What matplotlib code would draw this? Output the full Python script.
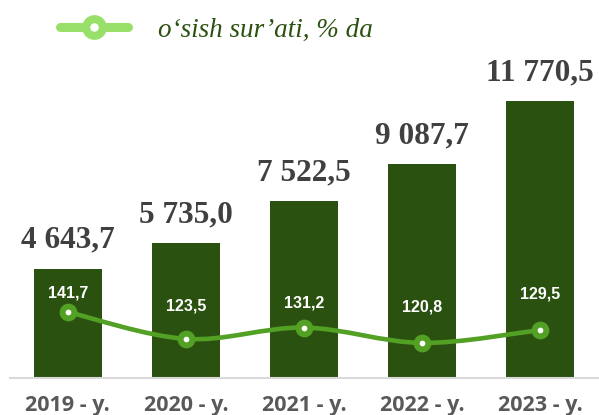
import matplotlib
matplotlib.use('Agg')
import matplotlib.pyplot as plt
import numpy as np
from matplotlib.path import Path
from matplotlib.patches import PathPatch
from matplotlib.lines import Line2D

years = ['2019 - y.', '2020 - y.', '2021 - y.', '2022 - y.', '2023 - y.']
volume = [4643.7, 5735.0, 7522.5, 9087.7, 11770.5]
growth = [141.7, 123.5, 131.2, 120.8, 129.5]
legend_text = 'o‘sish sur’ati, % da'

bar_color = '#2b5110'
line_color = '#52a024'

def fmt(v):
    s = '{:,.1f}'.format(v)
    return s.replace(',', ' ').replace('.', ',')

fig = plt.figure(figsize=(5.99, 4.15), dpi=100)
ax = fig.add_axes([10/599, 37/415, 588/599, 318/415])
x = np.arange(len(years))
ax.bar(x, volume, width=0.57, color=bar_color, zorder=2)
ax.set_xlim(-0.49, 4.49)
ax.set_ylim(0, 13515)
for s in ['top', 'right', 'left']:
    ax.spines[s].set_visible(False)
ax.spines['bottom'].set_color('#d9d9d9')
ax.spines['bottom'].set_linewidth(1.5)
ax.set_yticks([])
ax.set_xticks(x)
ax.set_xticklabels(years, fontsize=15.5, fontweight='bold', color='#595959',
                   family=['Open Sans', 'DejaVu Sans'])
ax.tick_params(axis='x', length=0, pad=12)

for xi, v in zip(x, volume):
    ax.annotate(fmt(v), (xi, v), xytext=(0, 10), textcoords='offset points',
                ha='center', va='bottom', fontsize=22.5, fontweight='bold',
                color='#404040', family=['Liberation Serif', 'DejaVu Serif'])

# smoothed growth line on second axis
ax2 = ax.twinx()
ax2.set_ylim(97.1, 312)
ax2.set_axis_off()
pts = np.column_stack([x, growth]).astype(float)
verts = [pts[0]]
codes = [Path.MOVETO]
for i in range(len(pts) - 1):
    p0 = pts[i - 1] if i > 0 else pts[i]
    p1, p2 = pts[i], pts[i + 1]
    p3 = pts[i + 2] if i + 2 < len(pts) else pts[i + 1]
    c1 = p1 + (p2 - p0) / 6
    c2 = p2 - (p3 - p1) / 6
    verts += [c1, c2, p2]
    codes += [Path.CURVE4] * 3
ax2.add_patch(PathPatch(Path(verts, codes), fill=False, edgecolor=line_color,
                        lw=3.3, capstyle='round', zorder=3))
ax2.plot(x, growth, linestyle='none', marker='o', markersize=8.5,
         markerfacecolor='white', markeredgecolor=line_color,
         markeredgewidth=4.3, zorder=4)

label_off = [14, 24, 18, 26, 26]
for xi, g, off in zip(x, growth, label_off):
    ax2.annotate(fmt(g), (xi, g), xytext=(0, off), textcoords='offset points',
                 ha='center', va='center', fontsize=11.5, color='white',
                 fontweight='bold', family=['Liberation Sans', 'DejaVu Sans'])

# legend
h = Line2D([], [], color='#98e06a', lw=6.5, marker='o', markersize=12,
           markerfacecolor='white', markeredgecolor='#98e06a', markeredgewidth=5.8,
           solid_capstyle='round')
fig.legend([h], [legend_text], loc='center left', bbox_to_anchor=(36/599, 1 - 30/415),
           frameon=False, handlelength=2.5, handletextpad=1.1,
           prop={'family': ['Liberation Serif', 'DejaVu Serif'], 'style': 'italic', 'size': 19.5},
           labelcolor='#2b5110')

fig.savefig('out.png', dpi=100)
